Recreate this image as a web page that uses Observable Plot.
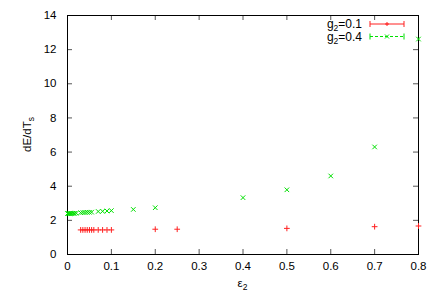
<!DOCTYPE html>
<html><head><meta charset="utf-8">
<script src="https://cdn.jsdelivr.net/npm/d3@7"></script>
<script src="https://cdn.jsdelivr.net/npm/@observablehq/plot@0.6"></script>
<style>
body{margin:0;background:#fff;}
svg{font-family:"Liberation Sans",Arial,sans-serif;}
</style>
</head><body>
<div id="chart"></div>
<script>
// g2 = 0.1 series (red +)
const redX = [0.03,0.035,0.04,0.045,0.05,0.055,0.06,0.07,0.08,0.09,0.1,0.2,0.25,0.5,0.7,0.8];
const redY = [1.44,1.44,1.44,1.44,1.44,1.44,1.44,1.44,1.44,1.44,1.44,1.48,1.48,1.53,1.63,1.67];
// g2 = 0.4 series (green x)
const greenX = [0,0.002,0.004,0.006,0.008,0.01,0.013,0.016,0.02,0.03,0.035,0.04,0.045,0.05,0.055,0.07,0.08,0.09,0.1,0.15,0.2,0.4,0.5,0.6,0.7,0.8];
const greenY = [2.40,2.40,2.40,2.40,2.40,2.40,2.41,2.41,2.42,2.45,2.46,2.46,2.47,2.47,2.48,2.52,2.53,2.55,2.57,2.64,2.74,3.33,3.79,4.60,6.30,12.62];
const xTicks = [0,0.1,0.2,0.3,0.4,0.5,0.6,0.7,0.8];
const yTicks = [0,2,4,6,8,10,12,14];
const seriesNames = ["0.1","0.4"];
const seriesColors = ["#ff2020","#00e000"];

const red = redX.map((x,i)=>({x, y: redY[i]}));
const green = greenX.map((x,i)=>({x, y: greenY[i]}));

const W = 436, H = 305;
const mL = 67, mR = 18, mT = 15, mB = 51;
const frameH = H - mT - mB, frameW = W - mL - mR;
const tk = 5;
const tickColor = "#555";

const chart = Plot.plot({
  width: W, height: H,
  marginLeft: mL, marginRight: mR, marginTop: mT, marginBottom: mB,
  style: {fontFamily: "'Liberation Sans', Arial, sans-serif", fontSize: "11.5px", color: "#000", background: "#fff"},
  x: {domain: [0, 0.8]},
  y: {domain: [0, 14]},
  marks: [
    Plot.axisX(xTicks, {tickSize: 0, tickPadding: 7, tickFormat: d => String(d), label: null, fontSize: 11.5, fill: "#000"}),
    Plot.axisY(yTicks, {tickSize: 0, tickPadding: 11, tickFormat: d => String(d), label: null, fontSize: 11.5, fill: "#000"}),
    Plot.tickX(xTicks, {x: d => d, insetTop: frameH - tk, stroke: tickColor}),
    Plot.tickX(xTicks, {x: d => d, insetBottom: frameH - tk, stroke: tickColor}),
    Plot.tickY(yTicks, {y: d => d, insetRight: frameW - tk, stroke: tickColor}),
    Plot.tickY(yTicks, {y: d => d, insetLeft: frameW - tk, stroke: tickColor}),
    Plot.frame({stroke: "#000", strokeWidth: 1}),
    Plot.dot(red, {x: "x", y: "y", symbol: "plus", r: 2, stroke: seriesColors[0], strokeWidth: 1}),
    Plot.dot(green, {x: "x", y: "y", symbol: "times", r: 2.2, stroke: seriesColors[1], strokeWidth: 1})
  ]
});
document.getElementById("chart").appendChild(chart);

const svg = d3.select(chart);
// axis labels with subscripts
const xl = svg.append("text").attr("x", mL + frameW/2).attr("y", 287).attr("text-anchor","middle")
  .attr("font-size", 11.5).attr("fill","#000");
xl.append("tspan").text("ε");
xl.append("tspan").attr("dy", 3).attr("font-size", 8.5).text("2");

const yl = svg.append("text").attr("transform", `translate(31,${mT + frameH/2}) rotate(-90)`)
  .attr("text-anchor","middle").attr("font-size", 11.5).attr("fill","#000");
yl.append("tspan").text("dE/dT");
yl.append("tspan").attr("dy", 3).attr("font-size", 8.5).text("s");

// legend
const lg = svg.append("g");
seriesNames.forEach((name, i) => {
  const yy = 24 + i * 12.5;
  const t = lg.append("text").attr("x", 362).attr("y", yy + 4).attr("text-anchor","end")
    .attr("font-size", 12).attr("fill","#000");
  t.append("tspan").text("g");
  t.append("tspan").attr("dy", 3).attr("font-size", 8.5).text("2");
  t.append("tspan").attr("dy", -3).text("=" + name);
  const c = seriesColors[i];
  const dash = i === 1 ? "3,2" : null;
  lg.append("line").attr("x1",370).attr("x2",404).attr("y1",yy).attr("y2",yy).attr("stroke",c).attr("stroke-dasharray",dash);
  lg.append("line").attr("x1",370).attr("x2",370).attr("y1",yy-3).attr("y2",yy+3).attr("stroke",c);
  lg.append("line").attr("x1",404).attr("x2",404).attr("y1",yy-3).attr("y2",yy+3).attr("stroke",c);
  const m = 387, s = 2;
  if (i === 0) {
    lg.append("path").attr("d",`M${m-s},${yy}H${m+s}M${m},${yy-s}V${yy+s}`).attr("stroke",c);
  } else {
    lg.append("path").attr("d",`M${m-s},${yy-s}L${m+s},${yy+s}M${m-s},${yy+s}L${m+s},${yy-s}`).attr("stroke",c);
  }
});
</script>
</body></html>
